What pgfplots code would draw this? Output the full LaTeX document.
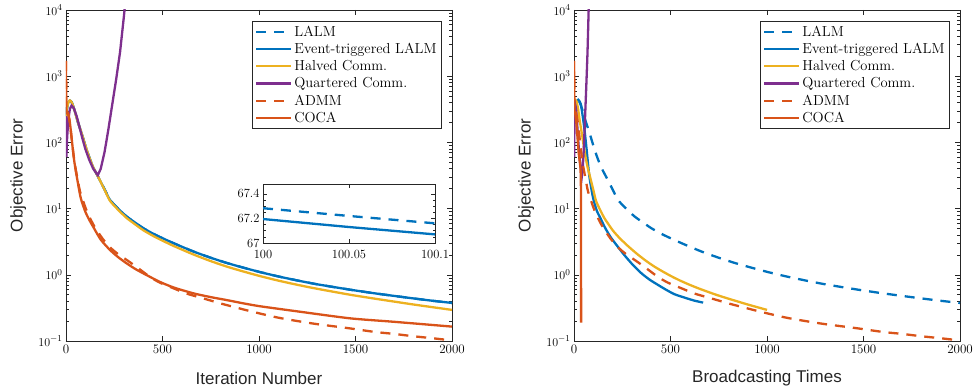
\documentclass[border=0pt]{standalone}
\usepackage{fontspec}
\newfontfamily\labelfont{Liberation Sans}
\usepackage{pgfplots}
\pgfplotsset{compat=1.18}
\usepackage{pgfplotstable}

\definecolor{mblue}{rgb}{0,0.447,0.741}
\definecolor{morange}{rgb}{0.85,0.325,0.098}
\definecolor{myellow}{rgb}{0.929,0.694,0.125}
\definecolor{mpurple}{rgb}{0.494,0.184,0.556}
\definecolor{axgray}{rgb}{0.15,0.15,0.15}
\tikzset{dsh/.style={dash pattern=on 10pt off 8pt}}
\pgfplotsset{legend image code/.code={\draw[#1] (0pt,0pt) -- (35pt,0pt);}}

\pgfplotstableread{
x y
0 250
5 330
12 400
20 430
30 400
45 300
60 210
80 140
100 90
120 60
141 42
167 30
200 19.5
228 13.5
270 10.0
314 7.6
360 6.1
401 5.05
450 4.2
487 3.72
560 2.98
660 2.25
750 1.81
833 1.51
920 1.28
1005 1.10
1100 0.945
1200 0.82
1300 0.72
1472 0.596
1600 0.525
1700 0.48
1800 0.44
1900 0.405
2000 0.376
}\lalm

\pgfplotstableread{
x y
0 250
5 330
12 400
20 430
30 400
45 300
60 210
80 140
100 90
120 60
141 42
167 30
200 19.2
228 13.1
270 9.6
314 7.22
360 5.73
401 4.70
450 3.89
487 3.42
560 2.71
660 2.03
750 1.61
833 1.33
920 1.12
1005 0.957
1100 0.817
1200 0.705
1300 0.616
1472 0.50
1600 0.436
1700 0.394
1800 0.356
1900 0.324
2000 0.295
}\halved

\pgfplotstableread{
x y
0 250
2 60
6 120
12 220
20 320
29 360
40 330
55 250
70 170
85 115
100 80
120 55
141 40
165 32
180 40
200 72
220 160
240 380
260 900
280 2300
300 8000
306 12000
}\quart

\pgfplotstableread{
x y
0 1700
2 300
10 280
20 200
30 110
40 62
50 40
60 28
73 18
100 10.5
120 7.6
150 5.2
190 3.5
228 2.6
270 2.05
314 1.68
360 1.35
435 0.93
487 0.76
560 0.62
625 0.52
700 0.45
800 0.37
900 0.31
1005 0.26
1100 0.225
1200 0.20
1300 0.18
1472 0.155
1600 0.137
1700 0.128
1800 0.118
1900 0.11
2000 0.102
}\admm

\pgfplotstableread{
x y
0 1700
2 300
10 280
20 200
30 110
40 60
50 38
60 26
73 16
81 13
100 9
120 6.8
141 5.3
180 3.4
228 2.37
270 1.85
314 1.49
360 1.22
401 1.05
487 0.78
560 0.64
660 0.525
750 0.46
833 0.415
920 0.37
1005 0.335
1200 0.28
1472 0.22
1700 0.195
2000 0.165
}\coca

\pgfplotstableread{
x y
0 250
8 380
22 440
35 380
45 250
55 150
65 80
80 30
100 14
120 9
134 7.5
160 5.2
190 3.7
221 2.8
260 2.0
306 1.4
350 1.05
393 0.84
440 0.69
479 0.59
520 0.51
565 0.46
620 0.41
669 0.38
}\etright

\pgfplotstableread{
x y
0 1700
1 800
2 300
6 280
12 200
18 120
24 70
30 50
34 40
36 20
36.5 2
37 0.19
}\cocaright

\begin{document}
\begin{tikzpicture}[x=1pt,y=1pt]
\useasboundingbox (0,0) rectangle (979,391);
% ---------- left ----------
\begin{axis}[at={(66pt,50pt)}, anchor=south west,
    scale only axis, width=386pt, height=331pt,
    ymode=log, xmin=0, xmax=2000, ymin=0.1, ymax=10000,
    xtick={0,500,1000,1500,2000},
    xticklabels={0,500,1000,1500,2000},
    axis line style={axgray, line width=0.7pt},
    tick style={axgray, line width=0.6pt},
    major tick length=5pt, minor tick length=3pt,
    tick label style={font=\fontsize{13}{13}\selectfont, text=black},
    label style={font=\labelfont\fontsize{17}{17}\selectfont, text=axgray},
    xlabel style={at={(axis description cs:0.5,-0.112)}, anchor=center},
    ylabel style={at={(axis description cs:-0.124,0.5)}, anchor=center},
    legend style={at={(0.974,0.967)}, anchor=north east, draw=axgray, line width=0.7pt,
      font=\fontsize{14.5}{16}\selectfont, inner xsep=3pt, inner ysep=2.5pt, row sep=1.5pt},
    legend cell align=left,
    every axis plot post/.append style={line width=2.3pt},
  xlabel={Iteration Number}, ylabel={Objective Error}]
\addplot[color=mblue, dsh, smooth, tension=0.4, line width=2.3pt] table[x=x,y=y] {\lalm};
\addlegendentry{LALM}
\addplot[color=mblue, smooth, tension=0.4, line width=2.3pt] table[x=x,y=y] {\lalm};
\addlegendentry{Event-triggered LALM}
\addplot[color=myellow, smooth, tension=0.4, line width=2.3pt] table[x=x,y=y] {\halved};
\addlegendentry{Halved Comm.}
\addplot[color=mpurple, line width=2.3pt] table[x=x,y=y] {\quart};
\addlegendentry{Quartered Comm.}
\addplot[color=morange, dsh, smooth, tension=0.4, line width=2.3pt] table[x=x,y=y] {\admm};
\addlegendentry{ADMM}
\addplot[color=morange, smooth, tension=0.4, line width=2.3pt] table[x=x,y=y] {\coca};
\addlegendentry{COCA}
\end{axis}
% ---------- inset ----------
\begin{axis}[at={(263pt,148pt)}, anchor=south west, scale only axis,
  width=172pt, height=59pt,
  xmin=0, xmax=0.1, ymin=67, ymax=67.48,
  xtick={0,0.05,0.1}, xticklabels={100,100.05,100.1},
  ytick={67,67.2,67.4}, yticklabels={67,67.2,67.4},
  minor y tick num=3,
  axis background/.style={fill=white},
  axis line style={axgray, line width=0.7pt},
  tick style={axgray, line width=0.6pt},
  major tick length=4pt, minor tick length=2.5pt,
  tick label style={font=\fontsize{12.5}{12.5}\selectfont, text=black},
  xticklabel style={yshift=-4pt},
  every axis plot post/.append style={line width=2.3pt}]
\addplot[color=mblue, dsh, line width=2.3pt] coordinates {(0,67.283) (0.05,67.22) (0.1,67.16)};
\addplot[color=mblue, line width=2.3pt] coordinates {(0,67.195) (0.05,67.13) (0.1,67.07)};
\end{axis}
% ---------- right ----------
\begin{axis}[at={(574pt,50pt)}, anchor=south west,
    scale only axis, width=386pt, height=331pt,
    ymode=log, xmin=0, xmax=2000, ymin=0.1, ymax=10000,
    xtick={0,500,1000,1500,2000},
    xticklabels={0,500,1000,1500,2000},
    axis line style={axgray, line width=0.7pt},
    tick style={axgray, line width=0.6pt},
    major tick length=5pt, minor tick length=3pt,
    tick label style={font=\fontsize{13}{13}\selectfont, text=black},
    label style={font=\labelfont\fontsize{17}{17}\selectfont, text=axgray},
    xlabel style={at={(axis description cs:0.5,-0.112)}, anchor=center},
    ylabel style={at={(axis description cs:-0.124,0.5)}, anchor=center},
    legend style={at={(0.974,0.967)}, anchor=north east, draw=axgray, line width=0.7pt,
      font=\fontsize{14.5}{16}\selectfont, inner xsep=3pt, inner ysep=2.5pt, row sep=1.5pt},
    legend cell align=left,
    every axis plot post/.append style={line width=2.3pt},
  xlabel={Broadcasting Times}, ylabel={Objective Error}]
\addplot[color=mblue, dsh, smooth, tension=0.4, line width=2.3pt] table[x=x,y=y] {\lalm};
\addlegendentry{LALM}
\addplot[color=mblue, smooth, tension=0.4, line width=2.3pt] table[x=x,y=y] {\etright};
\addlegendentry{Event-triggered LALM}
\addplot[color=myellow, smooth, tension=0.4, line width=2.3pt] table[x expr=\thisrow{x}/2,y=y] {\halved};
\addlegendentry{Halved Comm.}
\addplot[color=mpurple, line width=2.3pt] table[x expr=\thisrow{x}/4,y=y] {\quart};
\addlegendentry{Quartered Comm.}
\addplot[color=morange, dsh, smooth, tension=0.4, line width=2.3pt] table[x=x,y=y] {\admm};
\addlegendentry{ADMM}
\addplot[color=morange, line width=2.3pt] table[x=x,y=y] {\cocaright};
\addlegendentry{COCA}
\end{axis}
\end{tikzpicture}
\end{document}
